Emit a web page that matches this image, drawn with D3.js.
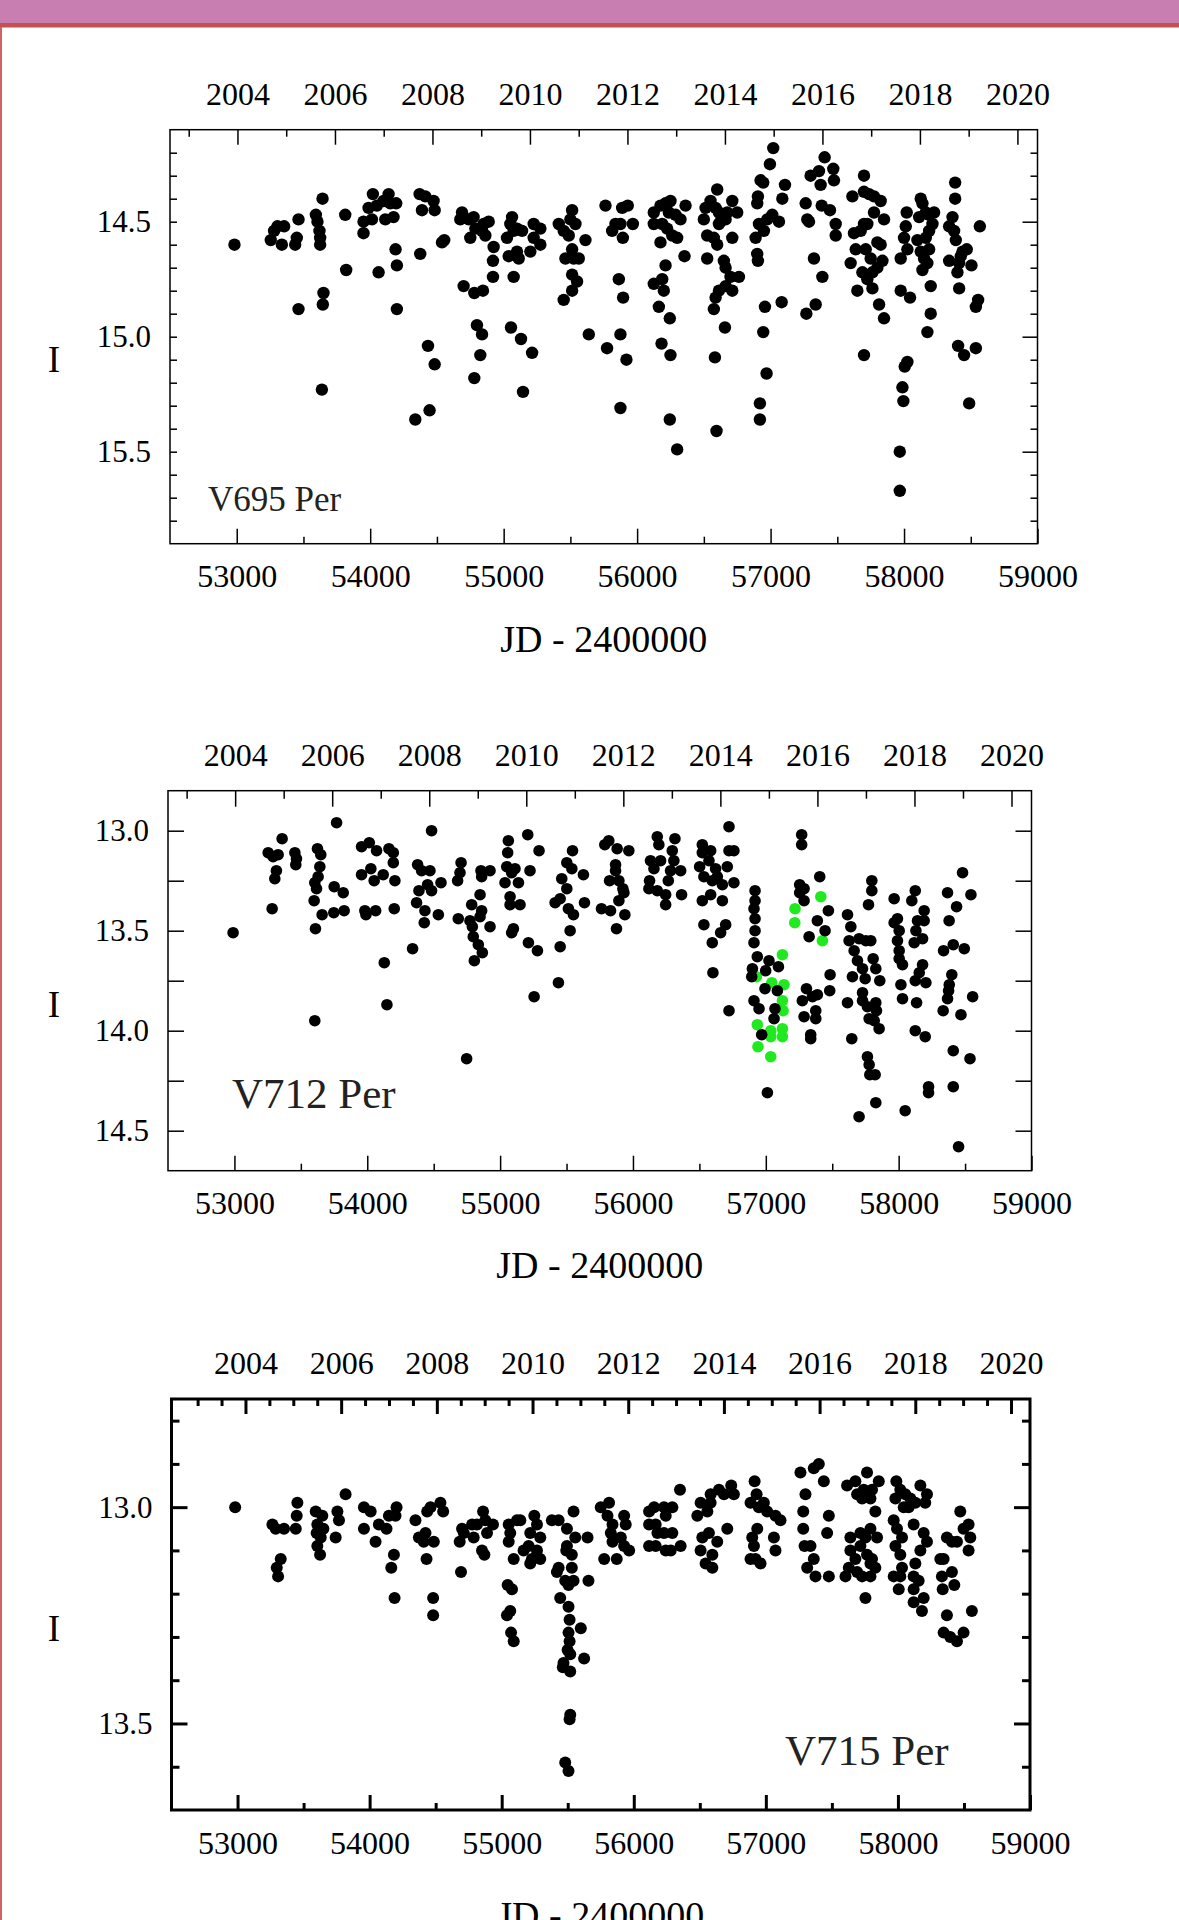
<!DOCTYPE html>
<html><head><meta charset="utf-8">
<script src="https://cdn.jsdelivr.net/npm/d3@7"></script>
<style>
body{margin:0;background:#fff}
svg{display:block}
</style>
</head><body>
<svg id="c" width="1179" height="1920"></svg>
<script>
// ---------- data: [JD-2400000, I mag] ----------
const v695 = [[52983,14.60],[53255,14.58],[53280,14.54],[53305,14.52],[53355,14.52],[53338,14.60],[53463,14.49],[53450,14.57],[53438,14.60],[53463,14.88],[53593,14.47],[53605,14.50],[53620,14.54],[53625,14.57],[53625,14.60],[53643,14.40],[53650,14.81],[53645,14.86],[53638,15.23],[53813,14.47],[53820,14.71],[53950,14.55],[53950,14.50],[54013,14.49],[53988,14.44],[54020,14.38],[54063,14.72],[54050,14.43],[54100,14.41],[54138,14.38],[54150,14.42],[54195,14.42],[54113,14.49],[54175,14.48],[54190,14.62],[54200,14.69],[54200,14.88],[54370,14.38],[54413,14.39],[54388,14.45],[54475,14.41],[54483,14.45],[54375,14.64],[54433,15.04],[54483,15.12],[54338,15.36],[54445,15.32],[54538,14.59],[54555,14.58],[54688,14.46],[54675,14.49],[54738,14.49],[54775,14.48],[54750,14.57],[54788,14.53],[54838,14.54],[54863,14.56],[54888,14.50],[54850,14.51],[54700,14.78],[54780,14.81],[54845,14.80],[54800,14.95],[54838,14.99],[54825,15.08],[54780,15.18],[54925,14.61],[54920,14.67],[54920,14.74],[55063,14.48],[55050,14.51],[55025,14.57],[55075,14.54],[55100,14.53],[55138,14.54],[55038,14.65],[55100,14.63],[55113,14.66],[55075,14.74],[55055,14.96],[55130,15.01],[55213,15.07],[55145,15.24],[55225,14.51],[55275,14.53],[55225,14.57],[55275,14.60],[55200,14.63],[55413,14.51],[55450,14.54],[55513,14.45],[55500,14.49],[55538,14.51],[55488,14.56],[55513,14.62],[55463,14.66],[55525,14.66],[55563,14.66],[55513,14.73],[55550,14.76],[55513,14.80],[55450,14.84],[55613,14.58],[55638,14.99],
[55763,14.43],[55813,14.54],[55838,14.51],[55875,14.51],[55888,14.44],[55930,14.43],[55893,14.57],[55968,14.51],[55863,14.75],[55895,14.83],[55875,14.99],[55775,15.05],[55920,15.10],[55875,15.31],
[56125,14.46],[56125,14.51],[56175,14.43],[56213,14.42],[56250,14.41],[56238,14.46],[56288,14.47],[56325,14.49],[56188,14.51],[56225,14.53],[56263,14.56],[56300,14.57],[56175,14.59],[56363,14.43],[56355,14.65],[56213,14.69],[56125,14.77],[56188,14.75],[56200,14.80],[56163,14.87],[56245,14.92],[56183,15.03],[56250,15.08],[56245,15.36],[56300,15.49],
[56513,14.44],[56500,14.49],[56550,14.41],[56588,14.44],[56613,14.46],[56625,14.50],[56663,14.49],[56675,14.46],[56600,14.36],[56525,14.56],[56575,14.57],[56600,14.60],[56613,14.51],[56713,14.41],[56750,14.46],[56713,14.57],[56525,14.66],[56650,14.67],[56663,14.70],[56700,14.74],[56763,14.74],[56713,14.80],[56663,14.78],[56613,14.80],[56588,14.83],[56575,14.88],[56658,14.96],[56583,15.09],[56595,15.41],
[57020,14.18],[56995,14.25],[56925,14.32],[56945,14.33],[56905,14.39],[56900,14.42],[56888,14.57],[56913,14.51],[56950,14.54],[56975,14.49],[57013,14.47],[57063,14.50],[56900,14.64],[56905,14.67],[57088,14.40],[57108,14.34],[57083,14.85],[56958,14.87],[56945,14.98],[56970,15.16],[56920,15.29],[56920,15.36],
[57263,14.42],[57275,14.49],[57288,14.50],[57300,14.30],[57363,14.28],[57375,14.34],[57405,14.22],[57470,14.27],[57475,14.32],[57383,14.43],[57445,14.45],[57488,14.51],[57488,14.56],[57325,14.66],[57388,14.74],[57338,14.86],[57268,14.90],
[57700,14.30],[57700,14.37],[57613,14.39],[57738,14.38],[57775,14.39],[57825,14.41],[57850,14.49],[57775,14.46],[57700,14.51],[57625,14.55],[57725,14.51],[57675,14.54],[57638,14.62],[57713,14.62],[57800,14.59],[57825,14.60],[57600,14.68],[57750,14.66],[57838,14.67],[57800,14.70],[57763,14.72],[57688,14.72],[57725,14.75],[57650,14.80],[57763,14.79],[57813,14.86],[57850,14.92],[57700,15.08],
[58020,14.46],[58013,14.52],[58000,14.57],[58025,14.62],[57975,14.66],[58125,14.40],[58138,14.42],[58113,14.48],[58163,14.46],[58225,14.46],[58188,14.47],[58213,14.51],[58100,14.58],[58163,14.57],[58188,14.54],[58125,14.63],[58150,14.66],[58175,14.68],[58138,14.71],[58188,14.62],[58200,14.78],[57975,14.80],[58045,14.83],[58200,14.90],[58175,14.98],[58025,15.11],[58005,15.13],[57988,15.22],[57995,15.28],[57968,15.50],[57968,15.67],
[58383,14.33],[58383,14.40],[58363,14.48],[58338,14.52],[58375,14.54],[58388,14.58],[58470,14.62],[58438,14.63],[58425,14.65],[58413,14.68],[58400,14.72],[58338,14.67],[58505,14.69],[58413,14.79],[58568,14.52],[58555,14.84],[58538,14.87],[58405,15.04],[58450,15.08],[58538,15.05],[58488,15.29]];

const v712 = [[52990,13.51],[53254,13.11],[53291,13.13],[53329,13.12],[53359,13.04],[53316,13.20],[53304,13.24],[53284,13.39],[53455,13.11],[53467,13.14],[53462,13.17],[53625,13.09],[53650,13.12],[53643,13.18],[53630,13.23],[53605,13.26],[53618,13.29],[53600,13.35],[53610,13.49],[53605,13.95],[53660,13.42],[53769,12.96],[53751,13.28],[53819,13.31],[53748,13.41],[53826,13.40],[53957,13.08],[54015,13.06],[54070,13.10],[53957,13.22],[54027,13.19],[54052,13.25],[54120,13.22],[54163,13.09],[54196,13.11],[54196,13.16],[54208,13.25],[53982,13.40],[53990,13.42],[54063,13.40],[54203,13.39],[54128,13.66],[54148,13.87],[54379,13.17],[54409,13.20],[54472,13.20],[54484,13.00],[54454,13.27],[54389,13.30],[54484,13.30],[54555,13.26],[54371,13.36],[54434,13.40],[54535,13.42],[54429,13.46],[54341,13.59],[54748,14.14],[54706,13.16],[54680,13.25],[54698,13.21],[54856,13.20],[54924,13.20],[54861,13.23],[54849,13.32],[54786,13.37],[54861,13.40],[54849,13.43],[54685,13.44],[54773,13.45],[54791,13.48],[54924,13.48],[54798,13.53],[54836,13.57],[54866,13.61],[54806,13.65],[55062,13.05],[55057,13.11],[55050,13.18],[55112,13.19],[55037,13.26],[55087,13.21],[55138,13.26],[55075,13.33],[55075,13.37],[55150,13.37],[55100,13.49],[55087,13.51],[55208,13.02],[55225,13.20],[55293,13.10],[55213,13.56],[55281,13.60],[55256,13.83],[55439,13.76],[55452,13.58],[55502,13.16],[55540,13.19],[55545,13.10],[55464,13.24],[55502,13.29],[55452,13.34],[55414,13.36],[55514,13.39],[55552,13.42],[55527,13.50],[55627,13.22],[55635,13.36],
[55788,13.07],[55818,13.05],[55881,13.09],[55969,13.10],[55869,13.17],[55869,13.20],[55824,13.25],[55894,13.25],[55924,13.29],[55932,13.31],[55894,13.35],[55763,13.39],[55831,13.40],[55939,13.42],[55876,13.49],
[56183,13.03],[56195,13.07],[56316,13.04],[56132,13.15],[56158,13.19],[56208,13.15],[56296,13.10],[56308,13.15],[56283,13.20],[56125,13.25],[56120,13.29],[56183,13.30],[56246,13.32],[56266,13.25],[56359,13.20],[56366,13.32],[56246,13.37],
[56522,13.07],[56522,13.11],[56585,13.10],[56502,13.18],[56572,13.15],[56622,13.19],[56534,13.23],[56597,13.25],[56635,13.23],[56673,13.27],[56522,13.35],[56585,13.32],[56673,13.35],[56710,13.18],[56723,12.98],[56723,13.10],[56760,13.10],[56760,13.26],[56534,13.47],[56698,13.47],[56660,13.51],[56597,13.56],[56602,13.71],[56723,13.90],
[56919,13.30],[56919,13.35],[56911,13.39],[56919,13.44],[56919,13.50],[56911,13.56],[56936,13.63],[56899,13.69],[56894,13.73],[57024,13.65],[56999,13.70],[56994,13.79],[56911,13.85],[56949,13.89],[57069,13.89],[57062,13.94],[57095,13.68],[57087,13.80],[56969,14.02],[57012,14.31],
[57270,13.02],[57270,13.07],[57255,13.27],[57288,13.29],[57255,13.31],[57288,13.35],[57406,13.23],[57471,13.40],[57388,13.45],[57446,13.50],[57326,13.53],[57484,13.72],[57481,13.80],[57306,13.79],[57275,13.85],[57351,13.83],[57388,13.82],[57376,13.90],[57288,13.93],[57376,13.94],[57338,14.02],[57338,14.04],
[57615,13.42],[57640,13.48],[57627,13.55],[57702,13.54],[57753,13.55],[57790,13.55],[57798,13.25],[57798,13.30],[57773,13.37],[57665,13.60],[57690,13.65],[57728,13.69],[57652,13.73],[57748,13.74],[57808,13.64],[57828,13.69],[57858,13.75],[57728,13.81],[57615,13.86],[57728,13.85],[57765,13.88],[57828,13.86],[57833,13.90],[57778,13.94],[57816,13.95],[57853,13.99],[57647,14.04],[57765,14.13],[57778,14.17],[57783,14.22],[57823,14.22],[57828,14.36],[57702,14.43],
[57966,13.34],[58125,13.30],[58099,13.35],[57991,13.44],[57966,13.46],[58004,13.50],[57991,13.55],[58004,13.60],[58192,13.40],[58192,13.45],[58142,13.45],[58130,13.50],[58180,13.54],[58117,13.56],[58004,13.64],[58029,13.67],[58180,13.67],[58155,13.71],[58125,13.75],[58205,13.76],[58017,13.77],[58029,13.84],[58135,13.86],[58125,14.00],[58200,14.03],[58225,14.28],[58225,14.31],[58049,14.40],
[58481,13.21],[58368,13.31],[58544,13.32],[58436,13.38],[58380,13.45],[58411,13.57],[58338,13.60],[58494,13.59],[58400,13.72],[58381,13.77],[58376,13.80],[58368,13.84],[58557,13.83],[58335,13.90],[58469,13.92],[58411,14.10],[58537,14.14],[58411,14.28],[58451,14.58]];

const v712green = [[57125,13.62],[57137,13.77],[57125,13.85],[57130,13.90],[57125,13.99],[57125,14.03],[57037,14.00],[57037,14.03],[56936,13.97],[56941,14.08],[57037,14.13],[57220,13.39],[57218,13.46],[57414,13.33],[57426,13.55],[56929,13.73],[57045,13.76]];

const v715 = [[52982,13.00],[53264,13.04],[53289,13.05],[53352,13.05],[53327,13.12],[53297,13.14],[53307,13.16],[53453,12.99],[53448,13.02],[53441,13.05],[53592,13.01],[53642,13.02],[53604,13.04],[53650,13.05],[53599,13.06],[53630,13.07],[53604,13.09],[53625,13.11],[53756,13.01],[53768,13.03],[53743,13.07],[53818,12.97],[53957,13.00],[54008,13.01],[53957,13.05],[54045,13.08],[54070,13.04],[54128,13.05],[54146,13.02],[54204,13.00],[54196,13.02],[54184,13.11],[54164,13.14],[54189,13.21],[54347,13.03],[54436,13.01],[54461,13.00],[54536,12.99],[54557,13.01],[54423,13.06],[54373,13.07],[54410,13.08],[54486,13.08],[54431,13.12],[54481,13.21],[54481,13.25],[54682,13.08],[54692,13.15],[54700,13.05],[54713,13.06],[54776,13.04],[54813,13.04],[54859,13.01],[54876,13.03],[54934,13.04],[54889,13.06],[54788,13.07],[54851,13.10],[54869,13.11],[55053,13.04],[55116,13.03],[55141,13.03],[55065,13.06],[55053,13.08],[55091,13.12],[55247,13.02],[55267,13.04],[55216,13.06],[55292,13.07],[55204,13.09],[55166,13.10],[55267,13.10],[55229,13.12],[55292,13.12],[55216,13.13],[55045,13.18],[55078,13.19],[55065,13.24],[55040,13.25],[55071,13.29],[55091,13.31],[55380,13.03],[55431,13.03],[55544,13.01],[55494,13.05],[55557,13.07],[55494,13.09],[55650,13.07],[55489,13.10],[55531,13.11],[55531,13.14],[55431,13.14],[55418,13.15],[55481,13.17],[55544,13.17],[55506,13.18],[55657,13.17],[55443,13.21],[55506,13.23],[55514,13.26],[55506,13.29],[55599,13.28],[55514,13.31],[55499,13.33],[55519,13.34],[55468,13.36],[55624,13.35],[55463,13.37],[55519,13.38],[55519,13.48],[55514,13.49],[55481,13.59],[55506,13.61],
[55750,13.00],[55813,12.99],[55801,13.02],[55839,13.04],[55927,13.02],[55939,13.04],[55826,13.06],[55839,13.08],[55902,13.07],[55927,13.09],[55965,13.10],[55776,13.12],[55871,13.12],
[56116,13.01],[56154,13.00],[56116,13.04],[56166,13.04],[56229,13.00],[56242,13.02],[56292,13.00],[56179,13.06],[56229,13.06],[56292,13.06],[56116,13.09],[56166,13.09],[56242,13.10],[56280,13.10],[56355,13.09],[56350,12.96],
[56506,12.99],[56557,13.01],[56582,12.97],[56645,12.96],[56683,12.97],[56738,12.95],[56758,12.97],[56582,12.99],[56481,13.02],[56519,13.07],[56569,13.06],[56708,13.05],[56632,13.08],[56506,13.10],[56595,13.11],[56544,13.13],[56595,13.14],
[56915,12.94],[56930,12.97],[56884,12.99],[56947,13.00],[56985,12.99],[57010,13.01],[57073,13.02],[57111,13.03],[56935,13.05],[56897,13.07],[57061,13.07],[56910,13.09],[57073,13.10],[56922,13.12],[56884,13.12],[56960,13.13],
[57262,12.92],[57363,12.91],[57401,12.90],[57439,12.94],[57300,12.97],[57283,13.01],[57477,13.02],[57283,13.05],[57464,13.06],[57293,13.09],[57338,13.09],[57363,13.12],[57313,13.14],[57376,13.16],[57477,13.16],
[57615,12.95],[57678,12.94],[57766,12.92],[57741,12.96],[57804,12.96],[57855,12.94],[57691,12.97],[57792,12.98],[57729,12.98],[57829,13.01],[57792,13.05],[57640,13.07],[57716,13.06],[57754,13.07],[57842,13.07],[57640,13.10],[57716,13.09],[57766,13.11],[57804,13.12],[57678,13.12],[57792,13.13],[57829,13.14],[57628,13.14],[57603,13.16],[57691,13.15],[57729,13.16],[57792,13.16],[57754,13.21],
[57988,12.94],[58018,12.96],[57981,12.98],[58056,12.97],[58094,12.98],[58132,12.99],[58170,12.95],[58207,12.99],[58220,12.97],[58044,13.00],[58081,13.00],[57968,13.03],[57993,13.05],[58119,13.04],[58031,13.07],[57981,13.09],[58195,13.06],[58220,13.08],[58170,13.10],[58018,13.11],[58132,13.13],[58031,13.14],[57968,13.16],[58018,13.16],[58119,13.16],[58157,13.17],[58006,13.19],[58119,13.19],[58195,13.21],[58119,13.22],[58182,13.24],
[58371,13.07],[58409,13.08],[58447,13.08],[58472,13.01],[58535,13.04],[58497,13.05],[58548,13.07],[58535,13.10],[58321,13.12],[58346,13.12],[58333,13.16],[58409,13.15],[58427,13.18],[58339,13.19],[58371,13.25],[58560,13.24],[58346,13.29],[58396,13.30],[58447,13.31],[58497,13.29]];

// ---------- tick labels ----------
const jdMajor = [53000,54000,55000,56000,57000,58000,59000];
const jdMinor = [53500,54500,55500,56500,57500,58500];
const yearLabels = [2004,2006,2008,2010,2012,2014,2016,2018,2020];
const yearOdd = [2003,2005,2007,2009,2011,2013,2015,2017,2019];
const yearHalf = [2003,2003.5,2004.5,2005,2005.5,2006.5,2007,2007.5,2008.5,2009,2009.5,2010.5,2011,2011.5,2012.5,2013,2013.5,2014.5,2015,2015.5,2016.5,2017,2017.5,2018.5,2019,2019.5];
const magMajor1 = [14.5,15.0,15.5];
const magMinor1 = [14.2,14.3,14.4,14.6,14.7,14.8,14.9,15.1,15.2,15.3,15.4,15.6,15.7,15.8];
const magMajor2 = [13.0,13.5,14.0,14.5];
const magMinor2 = [13.25,13.75,14.25];
const magMajor3 = [13.0,13.5];
const magMinor3 = [12.8,12.9,13.1,13.2,13.3,13.4,13.6];

// ---------- layout ----------
const FONT = '"Liberation Serif","Times New Roman",Times,serif';
const svg = d3.select("#c");
svg.append("rect").attr("x",0).attr("y",0).attr("width",1179).attr("height",1920).attr("fill","#fff");
svg.append("rect").attr("x",0).attr("y",0).attr("width",1179).attr("height",23).attr("fill","#C97EB2");
svg.append("rect").attr("x",0).attr("y",23).attr("width",1179).attr("height",4.5).attr("fill","#C4504F");
svg.append("rect").attr("x",0).attr("y",27).attr("width",2).attr("height",1893).attr("fill","#D06262");

const panels = [
  {name:"V695 Per", data:v695, green:[], xr:[170,1037.5], yd:[14.1,15.9], yr:[129.7,543.7], sw:1.5, r:6.2,
   magMaj:magMajor1, magMin:magMinor1, lMaj:7, lMin:7, rMaj:15, rMin:7, yearJD:[53005.5,58849.5], topMin:yearOdd, tMaj:15, tMin:7,
   label:[208,511,35], ilab:372, jdBase:652},
  {name:"V712 Per", data:v712, green:v712green, xr:[168,1031.5], yd:[12.8,14.7], yr:[790.7,1170.7], sw:1.5, r:5.8,
   magMaj:magMajor2, magMin:magMinor2, lMaj:16, lMin:16, rMaj:16, rMin:16, yearJD:[53005.5,58849.5], topMin:yearOdd, tMaj:16, tMin:8,
   label:[232,1108,43], ilab:1017, jdBase:1278},
  {name:"V715 Per", data:v715, green:[], xr:[171.5,1030], yd:[12.75,13.7], yr:[1399,1810], sw:3, r:6,
   magMaj:magMajor3, magMin:magMinor3, lMaj:16, lMin:8, rMaj:16, rMin:8, yearJD:[53060,58856], topMin:yearHalf, tMaj:15, tMin:7,
   label:[785,1765,43], ilab:1641, jdBase:1928}
];

function styleAxis(g, sw, fs){
  g.select(".domain").remove();
  g.selectAll("line").attr("stroke","#000").attr("stroke-width",sw);
  g.attr("font-family",FONT).attr("font-size",fs);
  g.selectAll("text").attr("fill","#000").attr("font-family",FONT).attr("font-size",fs);
}

panels.forEach(p=>{
  const g = svg.append("g");
  const x = d3.scaleLinear().domain([52500,59000]).range(p.xr);
  const y = d3.scaleLinear().domain(p.yd).range(p.yr);
  const [x0,x1] = p.xr, [y0,y1] = p.yr;
  const yearScale = d3.scaleLinear().domain([2004,2020]).range([x(p.yearJD[0]), x(p.yearJD[1])]);

  // points
  g.append("g").selectAll("circle").data(p.green).join("circle")
    .attr("cx",d=>x(d[0])).attr("cy",d=>y(d[1])).attr("r",p.r).attr("fill","#1FEA1F");
  g.append("g").selectAll("circle").data(p.data).join("circle")
    .attr("cx",d=>x(d[0])).attr("cy",d=>y(d[1])).attr("r",p.r).attr("fill","#000");

  // bottom axis
  g.append("g").attr("transform",`translate(0,${y1})`)
    .call(d3.axisBottom(x).tickValues(jdMajor).tickSize(-15).tickPadding(21).tickFormat(d3.format("d")))
    .call(a=>styleAxis(a,p.sw,32));
  g.append("g").attr("transform",`translate(0,${y1})`)
    .call(d3.axisBottom(x).tickValues(jdMinor).tickSize(-7).tickFormat(""))
    .call(a=>styleAxis(a,p.sw,32));
  // top axis (years)
  g.append("g").attr("transform",`translate(0,${y0})`)
    .call(d3.axisTop(yearScale).tickValues(yearLabels).tickSize(-p.tMaj).tickPadding(25).tickFormat(d3.format("d")))
    .call(a=>styleAxis(a,p.sw,32));
  g.append("g").attr("transform",`translate(0,${y0})`)
    .call(d3.axisTop(yearScale).tickValues(p.topMin).tickSize(-p.tMin).tickFormat(""))
    .call(a=>styleAxis(a,p.sw,32));
  // left axis
  g.append("g").attr("transform",`translate(${x0},0)`)
    .call(d3.axisLeft(y).tickValues(p.magMaj).tickSize(-p.lMaj).tickPadding(19).tickFormat(d3.format(".1f")))
    .call(a=>styleAxis(a,p.sw,31));
  g.append("g").attr("transform",`translate(${x0},0)`)
    .call(d3.axisLeft(y).tickValues(p.magMin).tickSize(-p.lMin).tickFormat(""))
    .call(a=>styleAxis(a,p.sw,31));
  // right axis
  g.append("g").attr("transform",`translate(${x1},0)`)
    .call(d3.axisRight(y).tickValues(p.magMaj).tickSize(-p.rMaj).tickFormat(""))
    .call(a=>styleAxis(a,p.sw,31));
  g.append("g").attr("transform",`translate(${x1},0)`)
    .call(d3.axisRight(y).tickValues(p.magMin).tickSize(-p.rMin).tickFormat(""))
    .call(a=>styleAxis(a,p.sw,31));

  // frame
  g.append("rect").attr("x",x0).attr("y",y0).attr("width",x1-x0).attr("height",y1-y0)
    .attr("fill","none").attr("stroke","#000").attr("stroke-width",p.sw);

  // labels
  g.append("text").attr("x",p.label[0]).attr("y",p.label[1]).attr("font-family",FONT)
    .attr("font-size",p.label[2]).attr("fill","#222").text(p.name);
  g.append("text").attr("x",54).attr("y",p.ilab).attr("text-anchor","middle").attr("font-family",FONT)
    .attr("font-size",37).attr("fill","#000").text("I");
  g.append("text").attr("x",(x0+x1)/2).attr("y",p.jdBase).attr("text-anchor","middle").attr("font-family",FONT)
    .attr("font-size",38).attr("fill","#000").text("JD - 2400000");
});
</script>
</body></html>
